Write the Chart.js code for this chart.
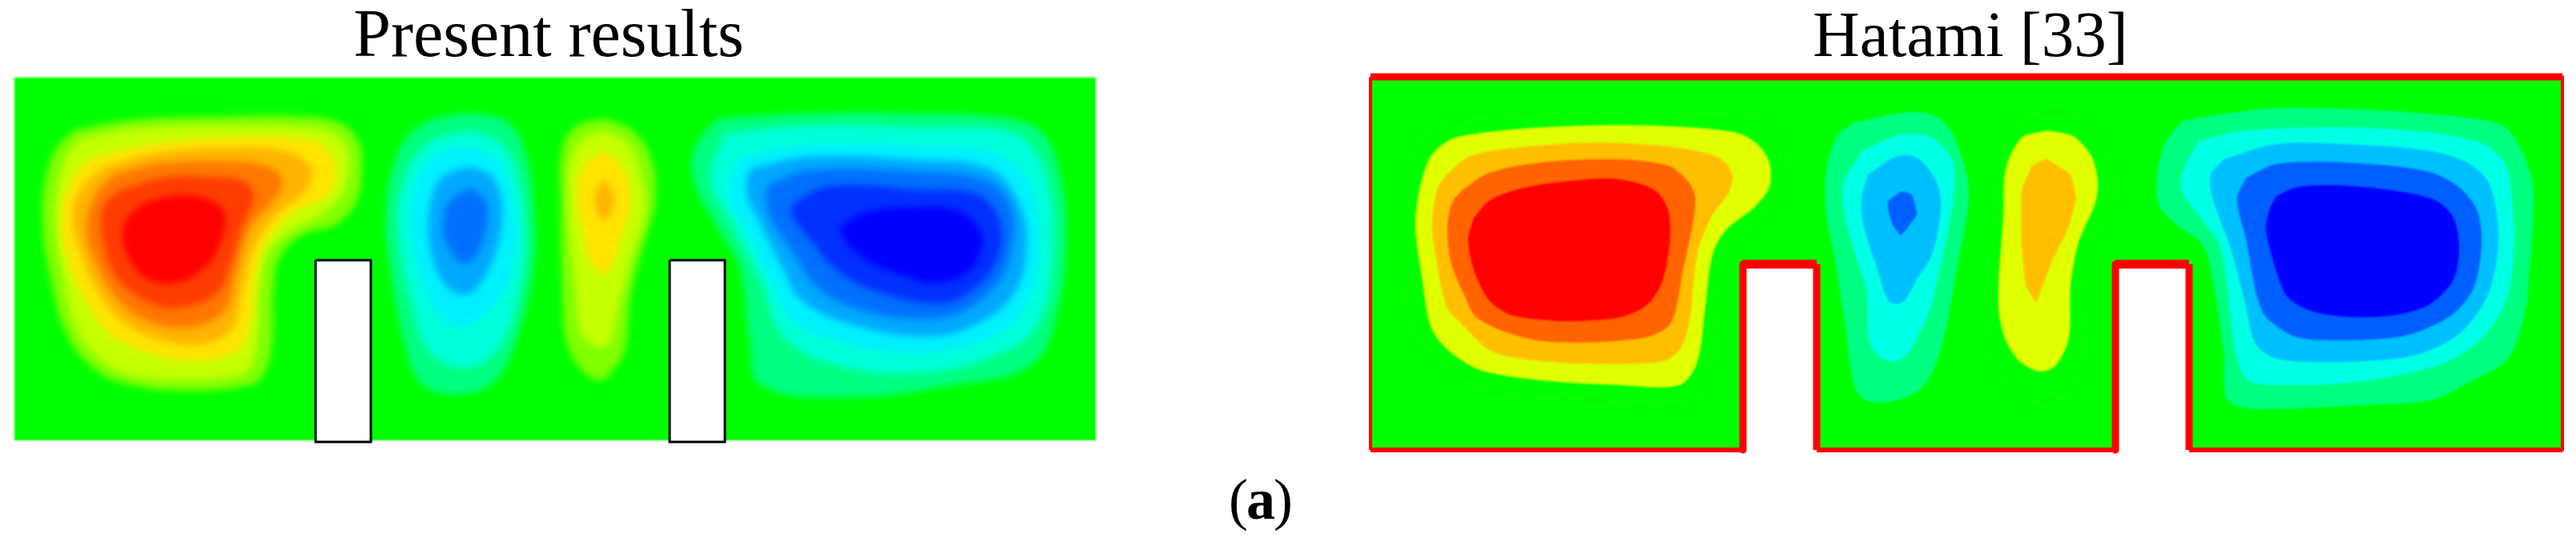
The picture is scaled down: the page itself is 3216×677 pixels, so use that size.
<!DOCTYPE html>
<html>
<head>
<meta charset="utf-8">
<title>Present results / Hatami [33]</title>
<script src="https://cdn.jsdelivr.net/npm/chart.js@4"></script>
<style>
    html, body { margin: 0; background: #fff; width: 3216px; height: 677px; overflow: hidden; }
    canvas { position: absolute; top: 0; }
    #presentChart { left: -30px; }
    #hatamiChart { left: 1690px; }
    #caption {
        position: absolute; left: 1534px; top: 578px; line-height: 92px; letter-spacing: -2px;
        font-family: "Liberation Serif", serif; font-size: 72px; color: #000;
    }
</style>
</head>
<body>
<canvas id="presentChart" width="1430" height="600"></canvas>
<canvas id="hatamiChart" width="1540" height="600"></canvas>
<div id="caption">(<b>a</b>)</div>

<script>
// Contour outlines, [x, depth] in cavity grid units
const presentCavity = [[0, 0], [1350, 0], [1350, 453], [0, 453], [0, 0]];
const presentBlock1 = [[376, 228], [445, 228], [445, 455], [376, 455], [376, 228]];
const presentBlock2 = [[818, 228], [887, 228], [887, 455], [818, 455], [818, 228]];

// left warm cell, outer level to inner level
const presentWarmA1 = [[74,66],[147,53],[257,49],[363,49],[409,58],[430,81],[434,110],[427,155],[400,184],[363,195],[335,218],[324,255],[322,329],[312,369],[294,384],[212,391],[138,382],[97,362],[65,321],[46,255],[35,181],[39,125],[53,88]];
const presentWarmA2 = [[83,77],[152,64],[257,60],[363,62],[400,70],[416,92],[418,118],[409,147],[381,173],[345,192],[317,218],[308,258],[303,329],[294,362],[276,373],[212,378],[143,371],[106,351],[78,314],[62,255],[51,181],[55,132],[67,95]];
const presentWarmA3 = [[101,99],[166,84],[257,75],[363,77],[391,92],[402,121],[391,147],[354,166],[322,195],[303,236],[294,310],[276,343],[221,354],[166,343],[120,321],[92,284],[69,236],[58,177],[69,132],[81,114]];
const presentWarmA4 = [[115,110],[175,95],[257,88],[340,92],[368,110],[372,125],[358,147],[326,173],[299,214],[285,266],[271,314],[230,334],[175,325],[133,303],[101,262],[83,218],[72,173],[85,136]];
const presentWarmA5 = [[124,121],[179,108],[257,105],[312,110],[335,129],[322,155],[294,188],[276,247],[262,292],[216,312],[166,304],[129,277],[106,240],[90,192],[101,147]];
const presentWarmA6 = [[133,140],[189,125],[257,125],[290,132],[299,151],[285,184],[271,229],[253,269],[202,288],[161,277],[129,251],[113,214],[108,177],[115,155]];
const presentWarmA7 = [[166,155],[207,147],[248,155],[263,173],[257,206],[239,236],[202,256],[166,251],[143,225],[135,195],[143,173]];

// narrow cold cell
const presentColdA1 = [[565,44],[615,55],[638,95],[648,162],[648,236],[629,321],[602,377],[560,395],[510,384],[487,332],[469,236],[464,169],[478,95],[510,58]];
const presentColdA2 = [[565,66],[606,81],[629,125],[638,199],[629,273],[606,336],[565,362],[519,343],[496,280],[480,199],[485,132],[514,84]];
const presentColdA3 = [[570,86],[606,107],[622,155],[625,218],[602,280],[556,312],[524,288],[503,229],[494,169],[510,114],[537,92]];
const presentColdA4 = [[572,112],[597,125],[609,162],[602,214],[583,255],[563,271],[537,258],[521,221],[517,177],[528,132],[551,116]];
const presentColdA5 = [[570,138],[588,155],[590,184],[579,218],[563,232],[547,221],[535,188],[544,155]];

// narrow warm cell
const presentWarmB1 = [[736,51],[771,66],[794,99],[800,155],[785,210],[769,273],[762,340],[744,369],[731,378],[709,366],[689,329],[684,255],[682,162],[684,88],[700,62]];
const presentWarmB2 = [[736,66],[767,84],[782,121],[787,169],[769,229],[753,292],[744,329],[731,336],[709,321],[700,255],[691,169],[693,107],[709,77]];
const presentWarmB3 = [[736,92],[758,110],[769,155],[758,199],[740,243],[722,236],[709,192],[702,144],[713,107]];
const presentWarmB4 = [[736,125],[749,151],[736,179],[724,151]];

// right cold cell
const presentColdB1 = [[878,51],[994,45],[1128,45],[1240,51],[1284,70],[1306,125],[1313,199],[1302,291],[1271,358],[1173,384],[1039,399],[932,384],[918,329],[905,236],[878,188],[849,132],[849,88]];
const presentColdB2 = [[887,70],[994,60],[1128,62],[1235,66],[1271,88],[1293,144],[1297,218],[1280,303],[1235,343],[1128,369],[1021,358],[958,321],[932,255],[896,184],[869,125]];
const presentColdB3 = [[905,99],[994,84],[1128,86],[1226,95],[1266,132],[1280,199],[1266,277],[1226,321],[1137,343],[1039,332],[972,303],[945,255],[918,199],[892,144]];
const presentColdB4 = [[918,114],[994,99],[1128,103],[1217,114],[1253,155],[1264,210],[1248,269],[1204,306],[1146,323],[1052,310],[985,280],[958,236],[932,184],[914,144]];
const presentColdB5 = [[945,132],[994,116],[1128,118],[1213,129],[1244,162],[1244,218],[1226,258],[1182,292],[1128,301],[1052,288],[1003,262],[972,218],[945,177],[938,147]];
const presentColdB6 = [[976,155],[1017,136],[1128,140],[1204,147],[1231,184],[1226,229],[1195,266],[1155,282],[1083,269],[1030,243],[994,203],[970,169]];
const presentColdB7 = [[1030,188],[1061,169],[1128,162],[1177,166],[1204,188],[1208,210],[1190,243],[1146,256],[1110,247],[1066,229],[1039,206]];

const presentWarmColors = ["#80ff00", "#c4ff00", "#ffe400", "#ffb400", "#ff7800", "#ff3c00", "#ff0000"];
const presentColdColors = ["#00ff80", "#00ffd8", "#00f0ff", "#00a8ff", "#0070ff", "#0030ff", "#0000ff"];

// Hatami cavity, walls run round the outline, the notches stay open at the bottom
const hatamiOutline = [[0,470],[0,4],[1488,4],[1488,470],[1022,470],[1022,238],[930,238],[930,470],[557,470],[557,238],[465,238],[465,470],[0,470]];
const wallWidths = [4, 9, 4, 6, 9, 11, 9, 6, 9, 11, 9, 6];

const hatamiGhostA = [[90,65],[173,52],[357,52],[478,55],[517,84],[519,138],[483,184],[444,214],[430,291],[420,387],[386,414],[260,406],[139,394],[76,348],[51,310],[39,214],[51,100]];
const hatamiGhostB = [[795,69],[836,50],[887,55],[922,103],[927,153],[897,214],[889,329],[882,387],[846,408],[806,402],[772,356],[772,272],[785,145]];

const hatamiWarmA1 = [[85,92],[105,80],[163,71],[260,65],[357,65],[454,73],[483,88],[498,111],[498,142],[478,168],[444,195],[427,226],[418,291],[408,360],[386,389],[309,389],[212,383],[139,371],[100,348],[76,318],[64,253],[56,191],[61,145],[73,107]];
const hatamiWarmA2 = [[95,126],[124,103],[187,92],[284,86],[381,92],[435,105],[452,126],[447,149],[425,180],[408,226],[398,310],[386,345],[362,360],[260,362],[187,356],[148,345],[115,314],[95,291],[83,237],[77,191],[83,145]];
const hatamiWarmA3 = [[115,145],[148,124],[212,111],[309,107],[372,115],[396,134],[405,153],[403,184],[391,241],[376,310],[352,327],[318,333],[255,336],[197,331],[134,306],[115,272],[100,234],[96,191],[102,161]];
const hatamiWarmA4 = [[129,180],[148,159],[182,145],[231,136],[299,131],[338,138],[359,149],[372,172],[374,207],[364,260],[345,289],[313,304],[260,309],[221,308],[175,301],[148,283],[129,245],[122,207]];

const hatamiColdA1 = [[604,61],[672,48],[709,55],[729,80],[747,145],[734,234],[711,348],[687,394],[648,410],[619,408],[604,391],[592,310],[580,234],[568,168],[570,115],[583,77]];
const hatamiColdA2 = [[614,96],[658,77],[697,78],[726,107],[729,145],[719,207],[709,253],[697,299],[672,348],[653,360],[629,348],[621,322],[619,272],[604,222],[592,176],[590,138]];
const hatamiColdA3 = [[621,126],[658,103],[682,105],[706,134],[712,168],[701,226],[682,257],[665,285],[648,285],[633,245],[616,191],[613,157]];
const hatamiColdA4 = [[646,159],[663,147],[676,151],[682,176],[662,202],[652,189],[646,168]];

const hatamiWarmB1 = [[844,71],[877,78],[900,103],[908,134],[905,161],[884,211],[874,264],[872,329],[856,364],[836,372],[811,360],[793,333],[785,302],[784,264],[790,176],[793,119],[813,80]];
const hatamiWarmB2 = [[844,106],[874,126],[881,155],[872,191],[851,234],[831,285],[818,264],[813,214],[813,145],[826,115]];

const hatamiColdB1 = [[1014,59],[1065,50],[1131,43],[1217,44],[1319,50],[1410,63],[1433,88],[1451,138],[1451,195],[1446,253],[1443,291],[1420,356],[1369,387],[1324,408],[1242,414],[1115,419],[1080,415],[1067,402],[1065,348],[1054,272],[1039,214],[1009,191],[986,168],[981,138],[991,88]];
const hatamiColdB2 = [[1034,84],[1090,71],[1217,67],[1319,73],[1390,88],[1418,115],[1425,157],[1428,214],[1418,283],[1385,333],[1334,364],[1232,385],[1131,389],[1095,383],[1080,348],[1070,272],[1060,214],[1039,184],[1014,149],[1014,122]];
const hatamiColdB3 = [[1065,107],[1131,88],[1217,88],[1319,96],[1369,111],[1397,138],[1408,207],[1395,276],[1359,325],[1303,352],[1217,360],[1131,356],[1105,337],[1093,291],[1075,222],[1052,157],[1049,126]];
const hatamiColdB4 = [[1093,130],[1131,113],[1217,111],[1319,122],[1359,142],[1382,172],[1387,214],[1377,268],[1349,302],[1293,327],[1217,333],[1156,329],[1120,306],[1108,283],[1093,207],[1082,157]];
const hatamiColdB5 = [[1131,153],[1156,142],[1217,140],[1283,147],[1331,159],[1352,180],[1359,218],[1352,257],[1324,287],[1283,301],[1227,304],[1176,297],[1146,280],[1133,253],[1118,195],[1123,168]];

const hatamiWarmColors = ["#e0ff00", "#ffbf00", "#ff6400", "#ff0000"];
const hatamiColdColors = ["#00ff80", "#00ffe4", "#00bfff", "#0060ff", "#0000ff"];
const hatamiSmallColors = ["#00ff80", "#00ffe4", "#00bfff", "#0060ff"];

function toPoints(outline) {
    return outline.map(p => ({ x: p[0], y: p[1] }));
}

function closed(outline) {
    return toPoints(outline.concat([outline[0]]));
}

// a filled closed shape on the scatter scales
function band(outline, color, tension) {
    return {
        data: closed(outline),
        showLine: true,
        fill: "shape",
        backgroundColor: color,
        borderWidth: 0,
        pointRadius: 0,
        tension: tension,
        clip: false
    };
}

function bands(levels, colors, tension) {
    return levels.map((outline, i) => band(outline, colors[i], tension));
}

function ghost(outline) {
    return {
        data: closed(outline),
        showLine: true,
        fill: false,
        borderColor: "#2cf400",
        borderWidth: 1.5,
        borderDash: [7, 6],
        pointRadius: 0,
        tension: 0.4
    };
}

function block(outline) {
    return {
        data: toPoints(outline),
        showLine: true,
        fill: "shape",
        backgroundColor: "#fff",
        borderColor: "#000",
        borderWidth: 3,
        pointRadius: 0,
        tension: 0
    };
}

// cavity edge gets a slight blur, contour bands a stronger one, the solid parts on top stay sharp
const softenContours = {
    id: "softenContours",
    beforeDatasetsDraw(chart, args, opts) {
        chart.ctx.filter = "blur(" + opts.edgeBlur + "px)";
    },
    afterDatasetDraw(chart, args, opts) {
        if (args.index === chart.data.datasets.length - 1) {
            chart.ctx.filter = "blur(" + opts.blur + "px)";
        }
        if (args.index === opts.lastSoft) chart.ctx.filter = "none";
    }
};

function cavityChart(id, titleOpts, xRange, yRange, blur, layers, sharpCount) {
    // chart.js paints the first dataset last, so the layers go in back to front and get flipped
    const datasets = layers.slice().reverse();
    new Chart(document.getElementById(id), {
        type: "scatter",
        data: { datasets: datasets },
        plugins: [softenContours],
        options: {
            responsive: false,
            animation: false,
            events: [],
            layout: { padding: 0 },
            scales: {
                x: { type: "linear", display: false, min: xRange[0], max: xRange[1] },
                y: { type: "linear", display: false, reverse: true, min: yRange[0], max: yRange[1] }
            },
            plugins: {
                legend: { display: false },
                tooltip: { enabled: false },
                softenContours: { blur: blur, edgeBlur: 0.8, lastSoft: sharpCount },
                title: {
                    display: true,
                    text: titleOpts.text,
                    color: "#000",
                    padding: { top: titleOpts.top, bottom: 1 },
                    font: { family: "Liberation Serif", size: titleOpts.size, weight: "normal", lineHeight: 0.95 }
                }
            }
        }
    });
}

const presentBlocks = [block(presentBlock1), block(presentBlock2)];
const presentLayers = [band(presentCavity, "#00ff00", 0)]
    .concat(bands([presentWarmA1, presentWarmA2, presentWarmA3, presentWarmA4, presentWarmA5, presentWarmA6, presentWarmA7], presentWarmColors, 0.4))
    .concat(bands([presentColdA1, presentColdA2, presentColdA3, presentColdA4, presentColdA5], presentColdColors, 0.4))
    .concat(bands([presentWarmB1, presentWarmB2, presentWarmB3], presentWarmColors, 0.4))
    .concat(band(presentWarmB4, presentWarmColors[3], 0.4))
    .concat(bands([presentColdB1, presentColdB2, presentColdB3, presentColdB4, presentColdB5, presentColdB6, presentColdB7], presentColdColors, 0.4))
    .concat(presentBlocks);

// top of title 89 px above data top: 8 + 0.95 * 84 + 1
cavityChart("presentChart", { text: "Present results", size: 84, top: 8 }, [-48, 1382], [-8, 503], 4.5, presentLayers, presentBlocks.length);

const hatamiWalls = {
    data: toPoints(hatamiOutline),
    showLine: true,
    fill: false,
    borderColor: "#ff0000",
    borderWidth: 4,
    borderJoinStyle: "round",
    pointRadius: 0,
    tension: 0,
    clip: false,
    segment: { borderWidth: ctx => wallWidths[ctx.p0DataIndex] }
};
const hatamiLayers = [band(hatamiOutline, "#00ff00", 0), ghost(hatamiGhostA), ghost(hatamiGhostB)]
    .concat(bands([hatamiWarmA1, hatamiWarmA2, hatamiWarmA3, hatamiWarmA4], hatamiWarmColors, 0.3))
    .concat(bands([hatamiColdA1, hatamiColdA2, hatamiColdA3], hatamiSmallColors, 0.3))
    .concat(band(hatamiColdA4, hatamiSmallColors[3], 0.1))
    .concat(bands([hatamiWarmB1], hatamiWarmColors, 0.3))
    .concat(band(hatamiWarmB2, hatamiWarmColors[1], 0.1))
    .concat(bands([hatamiColdB1, hatamiColdB2, hatamiColdB3, hatamiColdB4, hatamiColdB5], hatamiColdColors, 0.3))
    .concat(hatamiWalls);

cavityChart("hatamiChart", { text: "Hatami [33]", size: 81, top: 10 }, [-21, 1519], [-4, 508], 0.8, hatamiLayers, 1);
</script>
</body>
</html>
